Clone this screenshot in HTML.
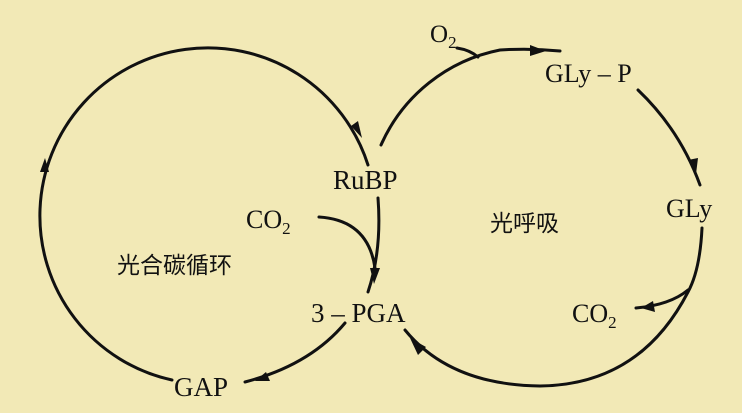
<!DOCTYPE html>
<html><head><meta charset="utf-8"><style>
html,body{margin:0;padding:0;background:#f2e9b6;}
svg{display:block}
text{font-family:"Liberation Serif","Noto Serif CJK SC",serif;fill:#111;}
.c{font-family:"Liberation Sans","Noto Sans CJK SC",sans-serif;}
</style></head><body>
<svg width="742" height="413" viewBox="0 0 742 413">
<rect width="742" height="413" fill="#f2e9b6"/>
<g fill="none" stroke="#111" stroke-width="3" stroke-linecap="round">
<path d="M172,380 A168,168 0 1 1 368,165"/>
<path d="M378,198 Q382,250 368,292"/>
<path d="M319,217 Q368,220 375,268"/>
<path d="M345,323 Q310,365 245,382"/>
<path d="M381,145 A165,165 0 0 1 500,50 Q530,48 560,51"/>
<path d="M457,48 Q470,50 478,57"/>
<path d="M638,90 Q680,130 700,185"/>
<path d="M702,228 Q700,270 688,292 Q640,385 540,386 Q450,385 405,330"/>
<path d="M688,290 Q670,305 636,308"/>
</g>
<g fill="#111">
<polygon points="40,172 49,172 45,158"/>
<polygon points="351,126 358,121 362,138"/>
<polygon points="370,268 380,268 374,284"/>
<polygon points="266,372 270,381 255,381"/>
<polygon points="530,45 530,56 546,51"/>
<polygon points="688,160 698,158 696,174"/>
<polygon points="653,301 655,312 641,308"/>
<polygon points="418,355 426,347 410,338"/>
</g>
<text x="430" y="42" font-size="25">O<tspan font-size="17" dy="6">2</tspan></text>
<text x="545" y="82" font-size="26">GLy – P</text>
<text x="333" y="189" font-size="27">RuBP</text>
<text x="666" y="217" font-size="26">GLy</text>
<text x="246" y="228" font-size="26">CO<tspan font-size="17" dy="6">2</tspan></text>
<text x="490" y="231" font-size="23" class="c">光呼吸</text>
<text x="117" y="273" font-size="23" class="c">光合碳循环</text>
<text x="311" y="322" font-size="27">3 – PGA</text>
<text x="572" y="322" font-size="26">CO<tspan font-size="17" dy="6">2</tspan></text>
<text x="174" y="396" font-size="27">GAP</text>
</svg>
</body></html>
